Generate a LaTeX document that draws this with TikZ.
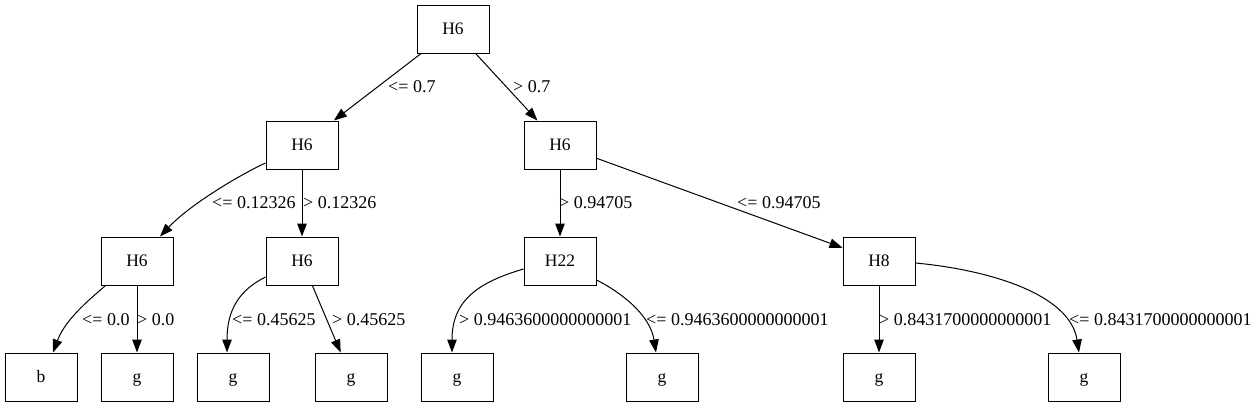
\documentclass[tikz,border=0pt]{standalone}
\usepackage{fontspec}
\setmainfont{Liberation Serif}
\usetikzlibrary{arrows.meta,calc}
\begin{document}
\begin{tikzpicture}[x=1pt,y=-1pt,
  box/.style={draw, line width=1pt, minimum width=72pt, minimum height=48pt, inner sep=0pt,
    text height=11pt, text depth=1pt, font=\fontsize{17.5}{20}\selectfont},
  edge/.style={draw, line width=1pt, -{Triangle[length=13pt,width=9.5pt]}},
  lbl/.style={anchor=base west, inner sep=0pt, font=\fontsize{18}{21}\selectfont}]
\useasboundingbox (0,0) rectangle (1259,407);
% nodes
\node[box] (root) at (453,29) {H6};
\node[box] (l1l) at (302,145) {H6};
\node[box] (l1r) at (560,145) {H6};
\node[box] (h6a) at (137,261) {H6};
\node[box] (h6b) at (302,261) {H6};
\node[box] (h22) at (560,261) {H22};
\node[box] (h8) at (879,261) {H8};
\node[box] (lb) at (41,377) {b};
\node[box] (lg2) at (137,377) {g};
\node[box] (lg3) at (233,377) {g};
\node[box] (lg4) at (351,377) {g};
\node[box] (lg5) at (457,377) {g};
\node[box] (lg6) at (662,377) {g};
\node[box] (lg7) at (879,377) {g};
\node[box] (lg8) at (1084,377) {g};
% edges
\draw[edge] (root) -- (l1l);
\draw[edge] (root) -- (l1r);
\draw[edge] ($(l1l.west)+(0,18)$) .. controls +(-26,12) and +(30,-32) .. ($(h6a.north)+(23,0)$);
\draw[edge] (l1l) -- (h6b);
\draw[edge] (l1r) -- (h22);
\draw[edge] (l1r) -- (h8);
\draw[edge] ($(h6a.south west)+(5,0)$) .. controls +(-11,10) and +(13,-35) .. ($(lb.north)+(12,0)$);
\draw[edge] (h6a) -- (lg2);
\draw[edge] ($(h6b.west)+(0,16)$) .. controls +(-26,13) and +(0,-43) .. ($(lg3.north)+(-6,0)$);
\draw[edge] (h6b) -- (lg4);
\draw[edge] ($(h22.west)+(0,8)$) .. controls +(-44,13) and +(0,-53) .. ($(lg5.north)+(-5,0)$);
\draw[edge] ($(h22.east)+(0,19)$) .. controls +(24,12) and +(-6,-38) .. ($(lg6.north)+(-6,0)$);
\draw[edge] (h8) -- (lg7);
\draw[edge] ($(h8.east)+(0,2)$) .. controls +(75,7) and +(-9,-58) .. ($(lg8.north)+(-5,0)$);
% labels
\node[lbl] (e1) at (388,92) {<= 0.7};
\node[lbl] (e2) at (513,92) {> 0.7};
\node[lbl] (e3) at (212,208) {<= 0.12326};
\node[lbl] (e4) at (303,208) {> 0.12326};
\node[lbl] (e5) at (559,208) {> 0.94705};
\node[lbl] (e6) at (737,208) {<= 0.94705};
\node[lbl] (e7) at (82,325) {<= 0.0};
\node[lbl] (e8) at (137,325) {> 0.0};
\node[lbl] (e9) at (232,325) {<= 0.45625};
\node[lbl] (e10) at (332,325) {> 0.45625};
\node[lbl] (e11) at (459,325) {> 0.9463600000000001};
\node[lbl] (e12) at (646,325) {<= 0.9463600000000001};
\node[lbl] (e13) at (879,325) {> 0.8431700000000001};
\node[lbl] (e14) at (1069,325) {<= 0.8431700000000001};
\end{tikzpicture}
\end{document}
